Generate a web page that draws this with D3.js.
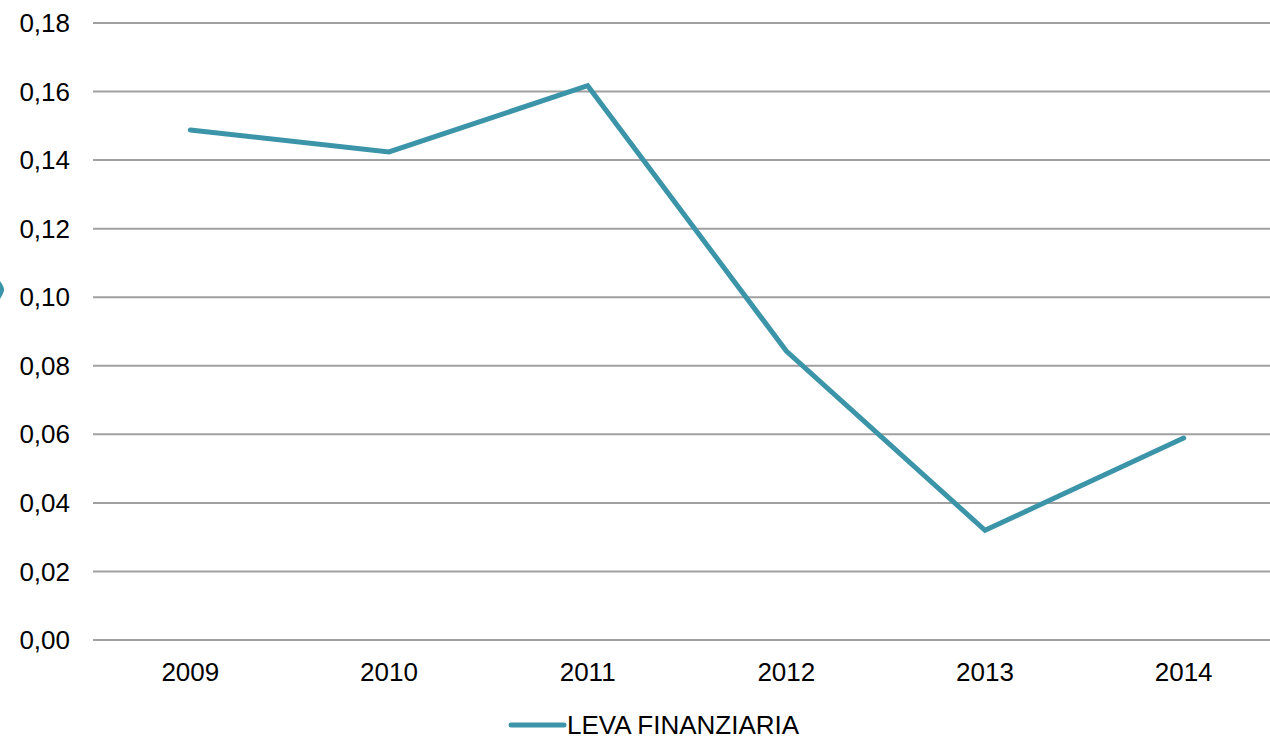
<!DOCTYPE html>
<html>
<head>
<meta charset="utf-8">
<script src="https://cdn.jsdelivr.net/npm/d3@7"></script>
<style>
  html, body { margin: 0; padding: 0; background: #fff; }
  svg { display: block; font-family: "Liberation Sans", Arial, sans-serif; }
</style>
</head>
<body>
<svg id="chart" width="1270" height="737"></svg>
<script>
const years = ['2009', '2010', '2011', '2012', '2013', '2014'];
const leva = [0.1488, 0.1424, 0.1617, 0.0843, 0.0320, 0.0589];
const yTicks = [0, 0.02, 0.04, 0.06, 0.08, 0.10, 0.12, 0.14, 0.16, 0.18];
const seriesName = 'LEVA FINANZIARIA';

const lineColor = '#3b94a8';
const gridColor = '#a0a0a0';

const svg = d3.select('#chart');

const x = d3.scaleBand().domain(years).range([93, 1285]);
const y = d3.scaleLinear().domain([0, 0.18]).range([640, 23]);
const fmt = v => d3.format('.2f')(v).replace('.', ',');

// gridlines
svg.append('g')
  .selectAll('line')
  .data(yTicks)
  .enter().append('line')
  .attr('x1', 93).attr('x2', 1270)
  .attr('y1', d => y(d)).attr('y2', d => y(d))
  .attr('stroke', gridColor)
  .attr('stroke-width', 2);

// y labels
svg.append('g')
  .selectAll('text')
  .data(yTicks)
  .enter().append('text')
  .attr('x', 70)
  .attr('y', d => y(d))
  .attr('dy', '0.35em')
  .attr('text-anchor', 'end')
  .attr('font-size', 26)
  .attr('fill', '#000')
  .text(fmt);

// x labels
svg.append('g')
  .selectAll('text')
  .data(years)
  .enter().append('text')
  .attr('x', d => x(d) + x.bandwidth() / 2 - 2)
  .attr('y', 681)
  .attr('text-anchor', 'middle')
  .attr('font-size', 26)
  .attr('fill', '#000')
  .text(d => d);

// series line
const line = d3.line()
  .x((d, i) => x(years[i]) + x.bandwidth() / 2 - 2)
  .y(d => y(d));

svg.append('path')
  .datum(leva)
  .attr('d', line)
  .attr('fill', 'none')
  .attr('stroke', lineColor)
  .attr('stroke-width', 5)
  .attr('stroke-linejoin', 'miter')
  .attr('stroke-linecap', 'round');

// legend
const lg = svg.append('g').attr('transform', 'translate(0,725)');
lg.append('line')
  .attr('x1', 511).attr('x2', 564)
  .attr('y1', 0).attr('y2', 0)
  .attr('stroke', lineColor)
  .attr('stroke-width', 5)
  .attr('stroke-linecap', 'round');
lg.append('text')
  .attr('x', 567).attr('y', 0)
  .attr('dy', '0.35em')
  .attr('font-size', 26)
  .attr('fill', '#000')
  .text(seriesName);

// cropped marker at left edge
svg.append('path')
  .attr('d', 'M0,281 Q5,288 4,291 Q3,294 0,299 Z')
  .attr('fill', lineColor);
</script>
</body>
</html>
